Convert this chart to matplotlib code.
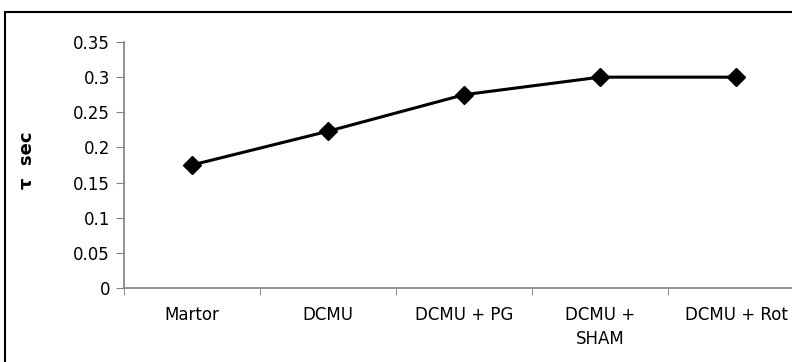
import matplotlib.pyplot as plt
from matplotlib.patches import Rectangle

categories = ["Martor", "DCMU", "DCMU + PG", "DCMU +\nSHAM", "DCMU + Rot"]
tau_sec = [0.175, 0.223, 0.275, 0.300, 0.300]
y_ticks = [0, 0.05, 0.1, 0.15, 0.2, 0.25, 0.3, 0.35]
y_tick_labels = ["0", "0.05", "0.1", "0.15", "0.2", "0.25", "0.3", "0.35"]

plt.rcParams['font.family'] = ['DejaVu Sans']

fig = plt.figure(figsize=(7.92, 3.62), dpi=100)
W, H = 792, 362

# plot area runs past the right edge, as in the cropped original
ax = fig.add_axes([124 / W, (H - 288) / H, 680 / W, 246 / H])

x = range(len(categories))
ax.plot(x, tau_sec, color='black', linewidth=2.2, marker='D', markersize=9,
        markerfacecolor='black', markeredgecolor='black')

ax.set_xlim(-0.5, len(categories) - 0.5)
ax.set_ylim(0, 0.35)
ax.set_yticks(y_ticks)
ax.set_yticklabels(y_tick_labels, fontsize=12)
ax.set_xticks(list(x))
ax.set_xticklabels(categories, fontsize=12, linespacing=1.45)
ax.set_xticks([i - 0.5 for i in range(len(categories) + 1)], minor=True)
ax.tick_params(axis='x', which='major', length=0, pad=13)
ax.tick_params(axis='x', which='minor', length=5, direction='out', color='#808080')
ax.tick_params(axis='y', length=6, direction='out', color='#808080', pad=4)

for side in ['top', 'right']:
    ax.spines[side].set_visible(False)
for side in ['left', 'bottom']:
    ax.spines[side].set_color('#808080')
    ax.spines[side].set_linewidth(1.2)

fig.text(27 / W, 1 - 160 / H, "τ  sec", rotation=90, fontsize=13,
         fontweight='bold', ha='center', va='center')

# outer chart border (cropped at right and bottom)
fig.patches.append(Rectangle((5 / W, -0.1), 1.2, 1 - 12 / H + 0.1,
                             transform=fig.transFigure, fill=False,
                             edgecolor='black', linewidth=1.5))

fig.savefig("out.png", dpi=100)
